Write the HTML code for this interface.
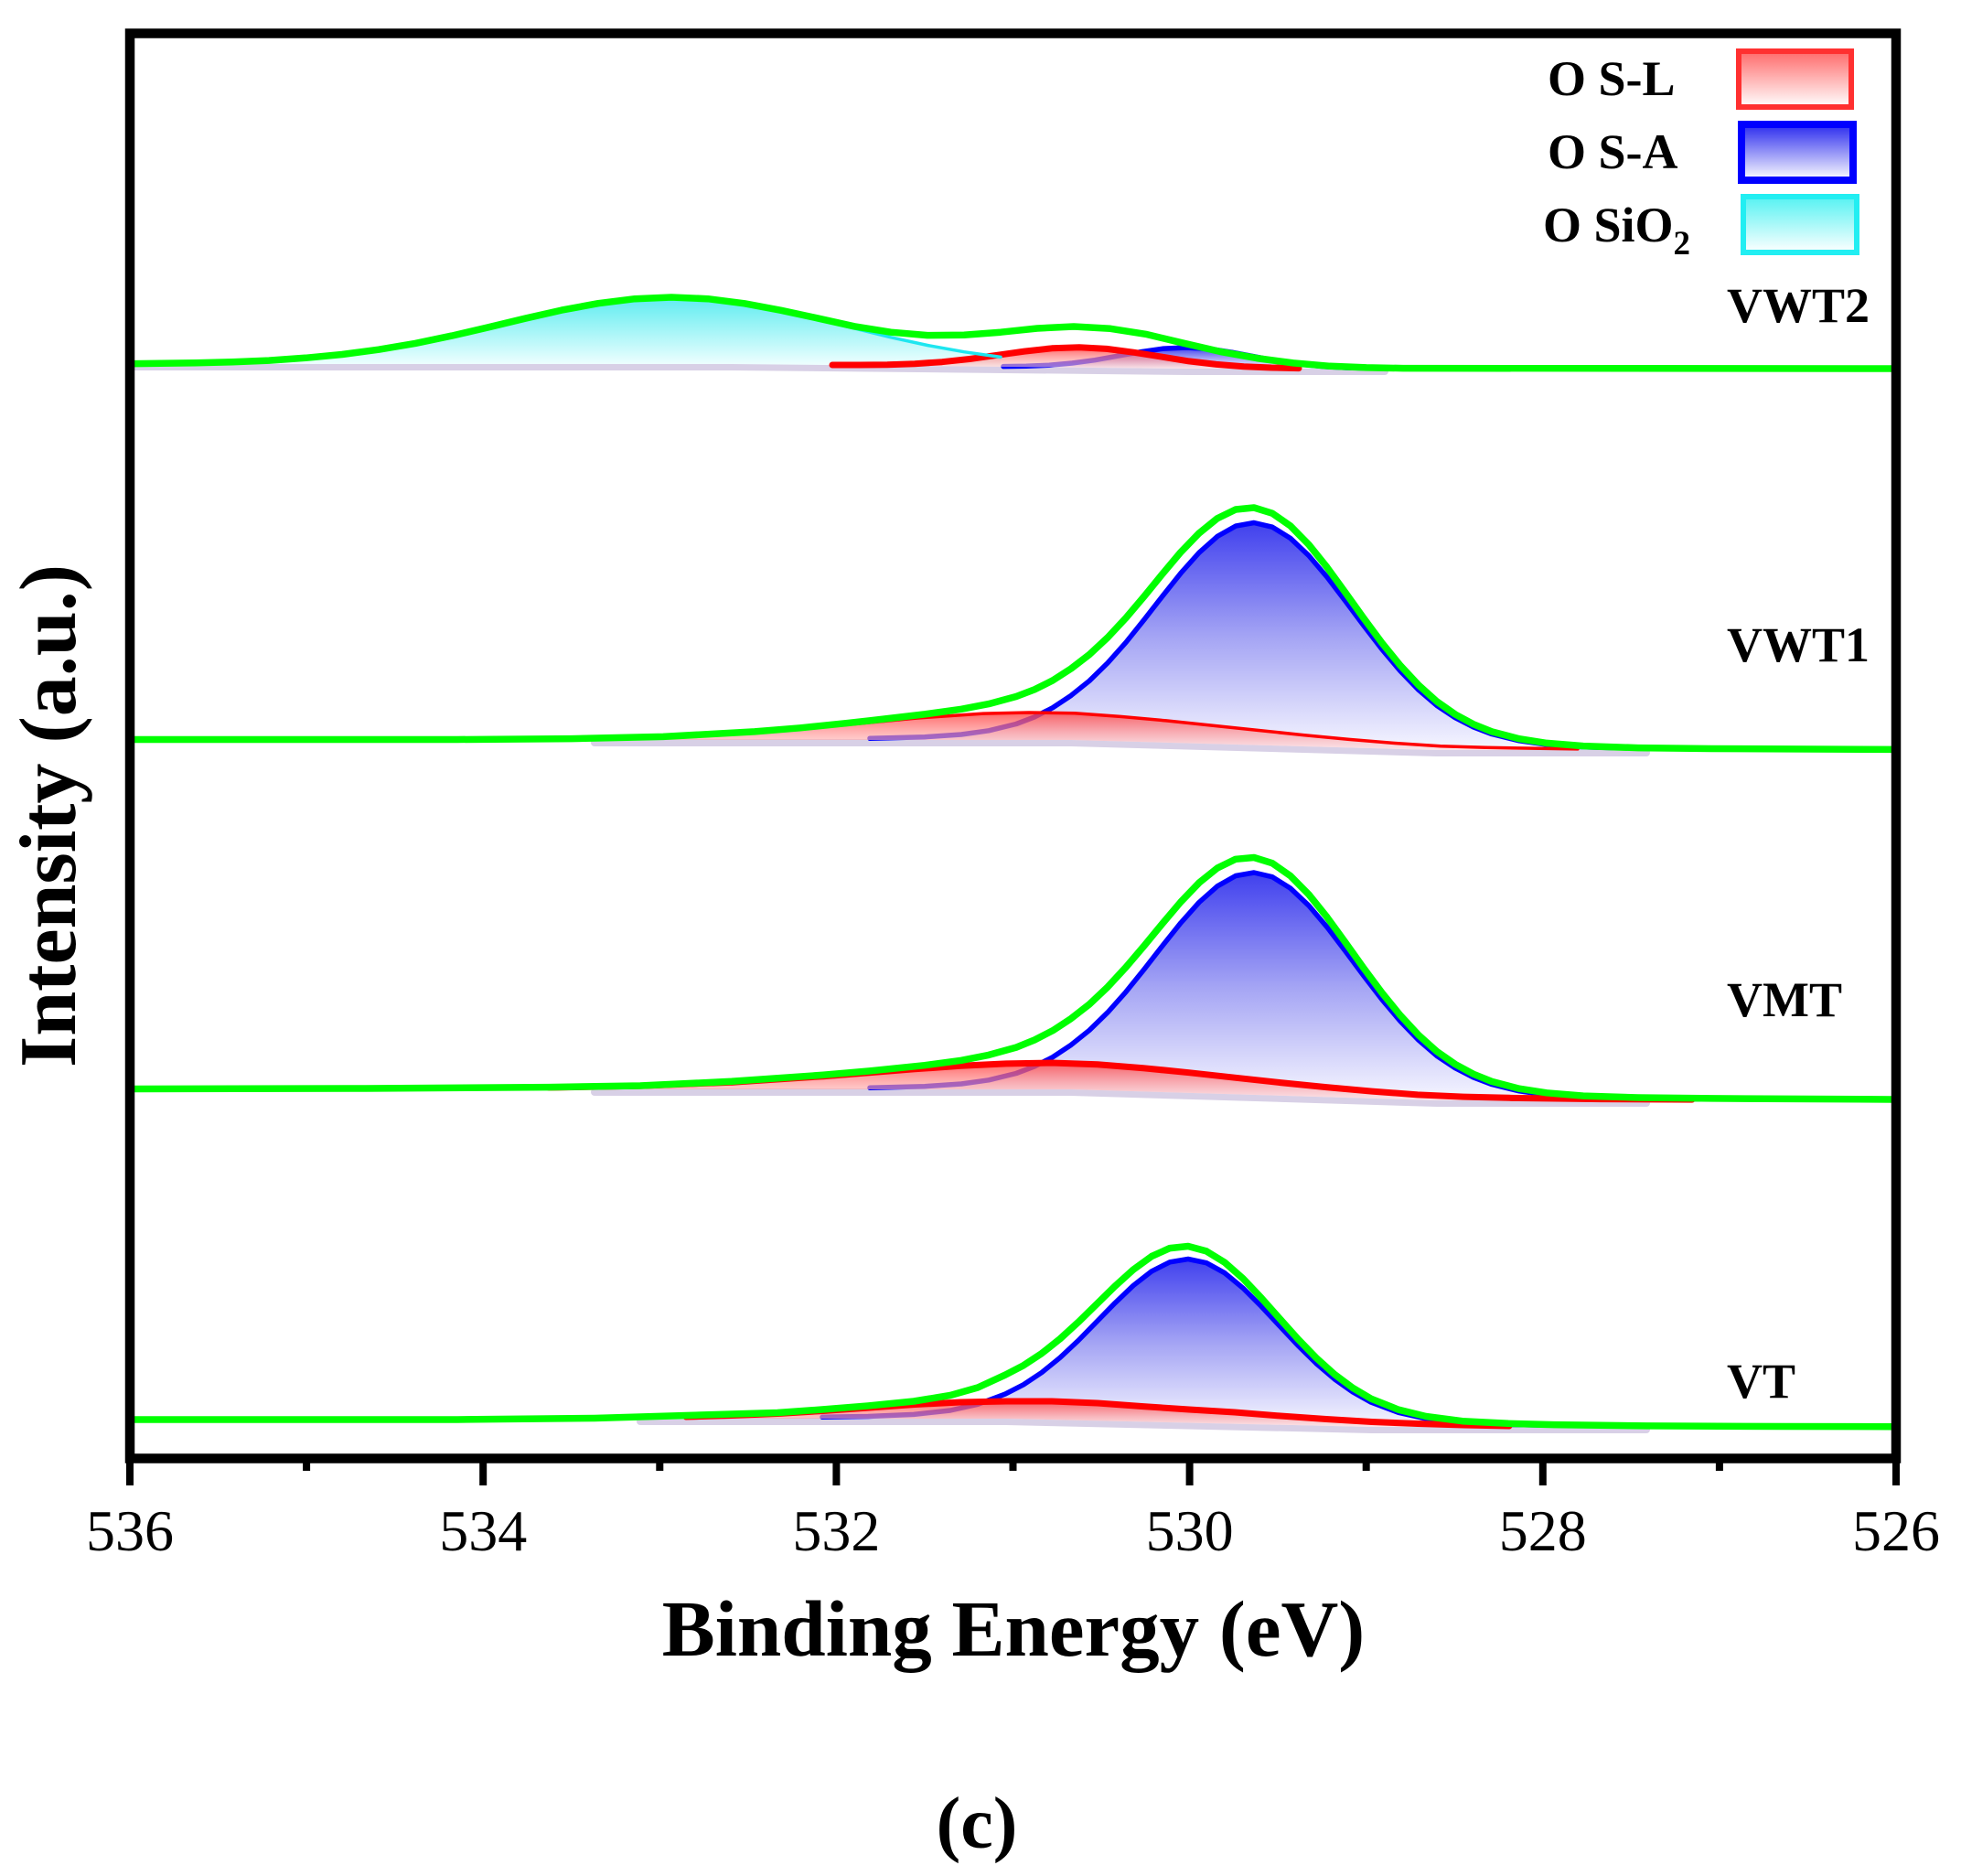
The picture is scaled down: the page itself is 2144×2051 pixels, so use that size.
<!DOCTYPE html>
<html>
<head>
<meta charset="utf-8">
<style>
html,body{margin:0;padding:0;background:#fff;}
svg{display:block;}
text{font-family:"Liberation Serif","Times New Roman",serif;fill:#000;}
</style>
</head>
<body>
<svg width="2144" height="2051" viewBox="0 0 2144 2051" xmlns="http://www.w3.org/2000/svg">
<defs>
  <linearGradient id="gR" x1="0" y1="0" x2="0" y2="1">
    <stop offset="0" stop-color="#ff4040" stop-opacity="0.8"/>
    <stop offset="1" stop-color="#ffd6d6" stop-opacity="0.55"/>
  </linearGradient>
  <linearGradient id="gB" x1="0" y1="0" x2="0" y2="1">
    <stop offset="0" stop-color="#4040ee"/>
    <stop offset="0.5" stop-color="#a4a4f4"/>
    <stop offset="1" stop-color="#f6f6ff"/>
  </linearGradient>
  <linearGradient id="gC" x1="0" y1="0" x2="0" y2="1">
    <stop offset="0" stop-color="#5eecf0"/>
    <stop offset="1" stop-color="#f2ffff"/>
  </linearGradient>
  <linearGradient id="lR" x1="0" y1="0" x2="0" y2="1">
    <stop offset="0" stop-color="#ff6a6a"/>
    <stop offset="1" stop-color="#ffffff"/>
  </linearGradient>
  <linearGradient id="lB" x1="0" y1="0" x2="0" y2="1">
    <stop offset="0" stop-color="#2a2aee"/>
    <stop offset="1" stop-color="#ffffff"/>
  </linearGradient>
  <linearGradient id="lC" x1="0" y1="0" x2="0" y2="1">
    <stop offset="0" stop-color="#55f2f2"/>
    <stop offset="1" stop-color="#ffffff"/>
  </linearGradient>
  <clipPath id="clip"><rect x="147" y="41" width="1922" height="1548"/></clipPath>
</defs>

<g clip-path="url(#clip)" fill="none" stroke-linejoin="round" stroke-linecap="round">

<!-- ===== VWT2 ===== -->
<path d="M147,401 L800,401 L1300,406 L1514,406" stroke="#d8d0e6" stroke-width="8"/>
<path d="M147,397.6 L254,395.7 L334,391.3 L414,382.2 L494,367.1 L574,348.2 L654,331.7 L734,325 L814,331.8 L894,349.1 L974,368.8 L1014,377.5 L1054,384.7 L1094,390.4 L1094,400.9 L800,398 L147,398 Z" fill="url(#gC)" stroke="none"/>
<path d="M1097,400.6 L1122,400.2 L1147,399.2 L1172,397 L1197,393.7 L1222,389.2 L1247,384.7 L1272,381.1 L1297,380 L1322,381.4 L1347,385.2 L1372,390 L1397,394.7 L1422,398.3 L1447,400.7 L1472,402 L1497,402.6 L1497,403 L1300,403 L1097,401 Z" fill="url(#gB)" stroke="none"/>
<path d="M1097,400.6 L1122,400.2 L1147,399.2 L1172,397 L1197,393.7 L1222,389.2 L1247,384.7 L1272,381.1 L1297,380 L1322,381.4 L1347,385.2 L1372,390 L1397,394.7 L1422,398.3 L1447,400.7 L1472,402 L1497,402.6" stroke="#0000ff" stroke-width="5.5"/>
<path d="M910,399 L940,399 L970,398.7 L1000,397.7 L1030,395.7 L1060,392.5 L1090,388.3 L1120,384.1 L1150,380.8 L1180,379.8 L1210,381.4 L1240,385.3 L1270,390.1 L1300,394.9 L1330,398.4 L1360,400.7 L1390,402 L1420,402.6 L1420,403 L1300,403 L910,399.1 Z" fill="url(#gR)" stroke="none"/>
<path d="M910,399 L940,399 L970,398.7 L1000,397.7 L1030,395.7 L1060,392.5 L1090,388.3 L1120,384.1 L1150,380.8 L1180,379.8 L1210,381.4 L1240,385.3 L1270,390.1 L1300,394.9 L1330,398.4 L1360,400.7 L1390,402 L1420,402.6" stroke="#ff0000" stroke-width="7"/>
<path d="M147,397.6 L254,395.7 L334,391.3 L414,382.2 L494,367.1 L574,348.2 L654,331.7 L734,325 L814,331.8 L894,349.1 L974,368.8 L1014,377.5 L1054,384.7 L1094,390.4" stroke="#1ee6f0" stroke-width="3.5"/>
<path d="M147,397.6 L214,396.8 L254,395.7 L294,394.1 L334,391.3 L374,387.5 L414,382.2 L454,375.4 L494,367.1 L534,357.8 L574,348.2 L614,339.1 L654,331.7 L694,326.7 L734,325 L774,326.7 L814,331.8 L854,339.3 L894,347.9 L934,356.8 L974,363.2 L1014,366.6 L1054,366.3 L1094,363.2 L1134,359 L1174,357 L1214,359.3 L1254,365.6 L1294,375.2 L1334,384.4 L1374,391.6 L1414,396.9 L1454,400.3 L1494,401.9 L1534,402.6 L2069,403" stroke="#00ff00" stroke-width="7.5"/>

<!-- ===== VWT1 ===== -->
<path d="M650,812 L1171,812 L1571,823 L1800,823" stroke="#d8d0e6" stroke-width="8"/>
<path d="M951,807.2 L1011,805.7 L1051,803 L1081,798.8 L1111,791.5 L1131,783.9 L1151,773.7 L1171,760.4 L1191,744.4 L1211,724.8 L1231,702.3 L1251,677.4 L1271,651.7 L1291,626.6 L1311,604.2 L1331,586.4 L1351,575.1 L1371,571.5 L1391,576.2 L1411,588.6 L1431,607.5 L1451,631 L1471,657.2 L1491,684 L1511,710 L1531,733.6 L1551,754.3 L1571,771.4 L1591,784.7 L1611,794.9 L1631,802.5 L1661,809.8 L1691,814 L1731,816.7 L1791,818.2 L1871,818.8 L1871,820 L1571,820 L1171,809 L951,809 Z" fill="url(#gB)" stroke="none"/>
<path d="M951,807.2 L1011,805.7 L1051,803 L1081,798.8 L1111,791.5 L1131,783.9 L1151,773.7 L1171,760.4 L1191,744.4 L1211,724.8 L1231,702.3 L1251,677.4 L1271,651.7 L1291,626.6 L1311,604.2 L1331,586.4 L1351,575.1 L1371,571.5 L1391,576.2 L1411,588.6 L1431,607.5 L1451,631 L1471,657.2 L1491,684 L1511,710 L1531,733.6 L1551,754.3 L1571,771.4 L1591,784.7 L1611,794.9 L1631,802.5 L1661,809.8 L1691,814 L1731,816.7 L1791,818.2 L1871,818.8" stroke="#0000ff" stroke-width="5.5"/>
<path d="M600,808.4 L700,806.8 L800,802.5 L900,794.7 L1000,785.2 L1075,780.1 L1125,779 L1175,779.8 L1225,783.4 L1275,787.9 L1325,793.1 L1375,798.4 L1425,803.6 L1475,808.4 L1525,812.5 L1575,815.8 L1625,817.3 L1725,818.9 L1725,820 L1571,820 L1171,809 L600,809 Z" fill="url(#gR)" stroke="none"/>
<path d="M600,808.4 L700,806.8 L800,802.5 L900,794.7 L1000,785.2 L1075,780.1 L1125,779 L1175,779.8 L1225,783.4 L1275,787.9 L1325,793.1 L1375,798.4 L1425,803.6 L1475,808.4 L1525,812.5 L1575,815.8 L1625,817.3 L1725,818.9" stroke="#ff0000" stroke-width="3.5"/>
<path d="M147,808.5 L500,808.5 L625,807.6 L725,805.4 L825,799.9 L875,795.8 L925,790.7 L951,787.9 L1011,780.9 L1051,775.3 L1081,769.6 L1111,761.5 L1131,753.9 L1151,743.9 L1171,731 L1191,715.6 L1211,697 L1231,675.6 L1251,651.9 L1271,627.4 L1291,603.6 L1311,582.9 L1331,566.7 L1351,557 L1371,555 L1391,561.2 L1411,575.1 L1431,595.5 L1451,620.4 L1471,647.9 L1491,675.9 L1511,703 L1531,727.6 L1551,749.1 L1571,767 L1591,781 L1611,791.8 L1631,799.9 L1661,807.7 L1691,812.4 L1731,815.6 L1791,817.6 L1871,818.5 L2069,819.4" stroke="#00ff00" stroke-width="7.5"/>

<!-- ===== VMT ===== -->
<path d="M650,1194 L1171,1194 L1571,1206 L1800,1206" stroke="#d8d0e6" stroke-width="8"/>
<path d="M951,1189.2 L1011,1187.7 L1051,1185 L1081,1180.8 L1111,1173.5 L1131,1165.9 L1151,1155.7 L1171,1142.4 L1191,1126.4 L1211,1106.9 L1231,1084.4 L1251,1059.6 L1271,1033.9 L1291,1008.9 L1311,986.5 L1331,968.8 L1351,957.5 L1371,954 L1391,958.7 L1411,971.2 L1431,990.1 L1451,1013.7 L1471,1039.9 L1491,1066.8 L1511,1092.8 L1531,1116.5 L1551,1137.2 L1571,1154.4 L1591,1167.7 L1611,1177.9 L1631,1185.5 L1661,1192.8 L1691,1197 L1731,1199.7 L1791,1201.2 L1871,1201.8 L1871,1203 L1571,1203 L1171,1191 L951,1191 Z" fill="url(#gB)" stroke="none"/>
<path d="M951,1189.2 L1011,1187.7 L1051,1185 L1081,1180.8 L1111,1173.5 L1131,1165.9 L1151,1155.7 L1171,1142.4 L1191,1126.4 L1211,1106.9 L1231,1084.4 L1251,1059.6 L1271,1033.9 L1291,1008.9 L1311,986.5 L1331,968.8 L1351,957.5 L1371,954 L1391,958.7 L1411,971.2 L1431,990.1 L1451,1013.7 L1471,1039.9 L1491,1066.8 L1511,1092.8 L1531,1116.5 L1551,1137.2 L1571,1154.4 L1591,1167.7 L1611,1177.9 L1631,1185.5 L1661,1192.8 L1691,1197 L1731,1199.7 L1791,1201.2 L1871,1201.8" stroke="#0000ff" stroke-width="5.5"/>
<path d="M600,1189 L700,1187.1 L800,1183.2 L900,1176.7 L950,1172.8 L1000,1168.8 L1050,1165.3 L1100,1162.9 L1150,1162 L1200,1163.8 L1250,1167.7 L1300,1172.7 L1350,1178.2 L1400,1183.6 L1450,1188.6 L1500,1193.1 L1550,1196.9 L1600,1199.1 L1650,1200.3 L1750,1201.6 L1850,1202.1 L1850,1203 L1571,1203 L1171,1191 L600,1191 Z" fill="url(#gR)" stroke="none"/>
<path d="M600,1189 L700,1187.1 L800,1183.2 L900,1176.7 L950,1172.8 L1000,1168.8 L1050,1165.3 L1100,1162.9 L1150,1162 L1200,1163.8 L1250,1167.7 L1300,1172.7 L1350,1178.2 L1400,1183.6 L1450,1188.6 L1500,1193.1 L1550,1196.9 L1600,1199.1 L1650,1200.3 L1750,1201.6 L1850,1202.1" stroke="#ff0000" stroke-width="7"/>
<path d="M147,1190.5 L400,1190 L600,1188.6 L700,1187 L800,1182.3 L900,1175.3 L951,1170.9 L1011,1164.7 L1051,1159.3 L1081,1153.4 L1111,1145.1 L1131,1137 L1151,1126.7 L1171,1113.6 L1191,1098 L1211,1079.1 L1231,1057.4 L1251,1033.9 L1271,1009.6 L1291,986 L1311,965.1 L1331,949 L1351,939.3 L1371,937.5 L1391,943.7 L1411,957.7 L1431,978 L1451,1002.9 L1471,1030.4 L1491,1058.5 L1511,1085.5 L1531,1110.1 L1551,1131.7 L1571,1149.6 L1591,1163.5 L1611,1174.3 L1631,1182.4 L1661,1190.2 L1691,1194.8 L1731,1198.1 L1791,1200 L1871,1200.9 L2069,1202" stroke="#00ff00" stroke-width="7.5"/>

<!-- ===== VT ===== -->
<path d="M700,1554 L1100,1554 L1500,1563 L1800,1563" stroke="#d8d0e6" stroke-width="8"/>
<path d="M899,1549.3 L949,1548.5 L999,1546.4 L1039,1542 L1069,1535.3 L1099,1524.1 L1119,1513.8 L1139,1500.5 L1159,1484.3 L1179,1465.5 L1199,1445.1 L1219,1424.6 L1239,1405.5 L1259,1389.9 L1279,1379.8 L1299,1376.5 L1319,1380.7 L1339,1391.7 L1359,1408.2 L1379,1428.2 L1399,1449.6 L1419,1470.9 L1439,1490.6 L1459,1507.7 L1479,1521.9 L1499,1533.1 L1529,1544.3 L1559,1551 L1599,1555.4 L1649,1557.5 L1699,1558.3 L1699,1560 L1500,1560 L1100,1551 L899,1551 Z" fill="url(#gB)" stroke="none"/>
<path d="M899,1549.3 L949,1548.5 L999,1546.4 L1039,1542 L1069,1535.3 L1099,1524.1 L1119,1513.8 L1139,1500.5 L1159,1484.3 L1179,1465.5 L1199,1445.1 L1219,1424.6 L1239,1405.5 L1259,1389.9 L1279,1379.8 L1299,1376.5 L1319,1380.7 L1339,1391.7 L1359,1408.2 L1379,1428.2 L1399,1449.6 L1419,1470.9 L1439,1490.6 L1459,1507.7 L1479,1521.9 L1499,1533.1 L1529,1544.3 L1559,1551 L1599,1555.4 L1649,1557.5 L1699,1558.3" stroke="#0000ff" stroke-width="5.5"/>
<path d="M750,1549 L800,1547.5 L850,1545.5 L900,1542.5 L950,1539 L1000,1535.5 L1050,1533 L1100,1532 L1150,1532 L1200,1534 L1250,1537.6 L1300,1541 L1350,1544 L1400,1548 L1450,1551.5 L1500,1554.5 L1550,1556.5 L1600,1558 L1650,1559 L1650,1560 L1500,1560 L1100,1551 L750,1551 Z" fill="url(#gR)" stroke="none"/>
<path d="M750,1549 L800,1547.5 L850,1545.5 L900,1542.5 L950,1539 L1000,1535.5 L1050,1533 L1100,1532 L1150,1532 L1200,1534 L1250,1537.6 L1300,1541 L1350,1544 L1400,1548 L1450,1551.5 L1500,1554.5 L1550,1556.5 L1600,1558 L1650,1559" stroke="#ff0000" stroke-width="7"/>
<path d="M147,1552 L500,1552 L650,1550.5 L750,1547.5 L850,1544.5 L899,1541 L949,1537 L999,1532 L1039,1525.5 L1069,1517 L1099,1503.2 L1119,1492.8 L1139,1479.6 L1159,1463.7 L1179,1445.4 L1199,1425.8 L1219,1406.2 L1239,1388.1 L1259,1373.6 L1279,1364.6 L1299,1362.5 L1319,1367.9 L1339,1380.2 L1359,1397.8 L1379,1419 L1399,1441.5 L1419,1463.9 L1439,1484.5 L1459,1502.5 L1479,1517.4 L1499,1529.2 L1529,1541.2 L1559,1548.5 L1599,1553.7 L1649,1556.3 L1699,1557.6 L1800,1558.9 L1950,1559.5 L2069,1559.7" stroke="#00ff00" stroke-width="7.5"/>
</g>

<!-- frame -->
<rect x="142" y="36.5" width="1931" height="1558" fill="none" stroke="#000" stroke-width="10.5"/>
<!-- ticks -->
<g stroke="#000" stroke-width="8">
  <line x1="142" y1="1594" x2="142" y2="1624"/>
  <line x1="335.1" y1="1594" x2="335.1" y2="1608"/>
  <line x1="528.2" y1="1594" x2="528.2" y2="1624"/>
  <line x1="721.3" y1="1594" x2="721.3" y2="1608"/>
  <line x1="914.4" y1="1594" x2="914.4" y2="1624"/>
  <line x1="1107.5" y1="1594" x2="1107.5" y2="1608"/>
  <line x1="1300.6" y1="1594" x2="1300.6" y2="1624"/>
  <line x1="1493.7" y1="1594" x2="1493.7" y2="1608"/>
  <line x1="1686.8" y1="1594" x2="1686.8" y2="1624"/>
  <line x1="1879.9" y1="1594" x2="1879.9" y2="1608"/>
  <line x1="2073" y1="1594" x2="2073" y2="1624"/>
</g>
<g font-size="64" text-anchor="middle">
  <text x="142" y="1695">536</text>
  <text x="528.2" y="1695">534</text>
  <text x="914.4" y="1695">532</text>
  <text x="1300.6" y="1695">530</text>
  <text x="1686.8" y="1695">528</text>
  <text x="2073" y="1695">526</text>
</g>

<text x="1108" y="1810" font-size="87" font-weight="bold" text-anchor="middle">Binding Energy (eV)</text>
<text transform="translate(82,892) rotate(-90)" font-size="88" font-weight="bold" text-anchor="middle">Intensity (a.u.)</text>
<text x="1068" y="2020" font-size="80" font-weight="bold" text-anchor="middle">(c)</text>

<!-- legend -->
<g font-size="54" font-weight="bold">
  <text x="1692" y="104">O S-L</text>
  <text x="1692" y="184">O S-A</text>
  <text x="1687" y="264">O SiO<tspan font-size="37" dy="14">2</tspan></text>
</g>
<rect x="1901" y="56" width="123" height="61" fill="url(#lR)" stroke="#ff3030" stroke-width="6"/>
<rect x="1904" y="136" width="122" height="61" fill="url(#lB)" stroke="#0000ff" stroke-width="8"/>
<rect x="1906" y="215" width="124" height="61" fill="url(#lC)" stroke="#22eef2" stroke-width="6"/>

<!-- sample labels -->
<g font-size="54" font-weight="bold">
  <text x="1888" y="352">VWT2</text>
  <text x="1888" y="723">VWT1</text>
  <text x="1888" y="1111">VMT</text>
  <text x="1888" y="1528">VT</text>
</g>
</svg>
</body>
</html>
